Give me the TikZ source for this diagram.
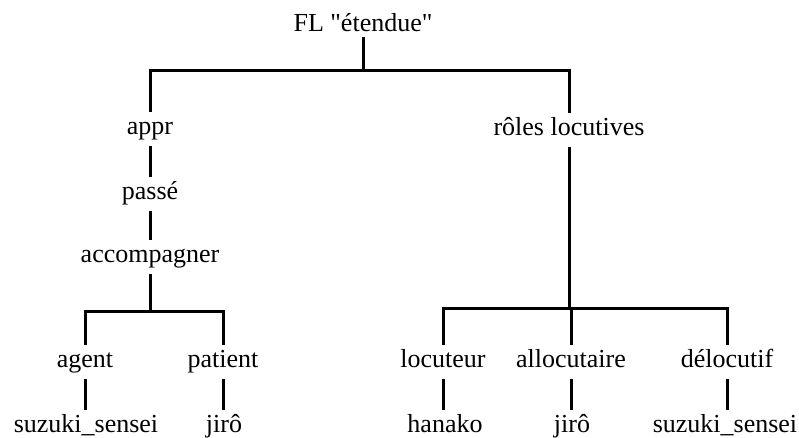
\documentclass[tikz,border=0pt]{standalone}
\usepackage{fontspec}
\setmainfont{Liberation Serif}
\usepackage{tikz}
\tikzset{%
    term/.style={%
        anchor=base, inner sep=3pt,
        text height=9pt, text depth=3pt,
        font=\fontsize{13}{15}\selectfont
    },
    branch/.style={line width=1.5pt, line cap=rect}
}

\begin{document}
\begin{tikzpicture}[x=0.5pt,y=-0.5pt]
	\useasboundingbox (0,0) rectangle (799,438);
	\node[term,text depth=0pt](root) at (363,32) {FL \textquotedbl étendue\textquotedbl};
	\node[term](appr) at (150,135) {appr};
	\node[term](roles) at (569,136) {rôles locutives};
	\node[term](passe) at (150,200) {passé};
	\node[term](accomp) at (150,263) {accompagner};
	\node[term](agent) at (85,368) {agent};
	\node[term](patient) at (223,368) {patient};
	\node[term](suzukiA) at (86,433) {suzuki\_sensei};
	\node[term](jiroA) at (224,433) {jirô};
	\node[term](locuteur) at (443,368) {locuteur};
	\node[term](allocutaire) at (571,368) {allocutaire};
	\node[term](delocutif) at (727,368) {délocutif};
	\node[term](hanako) at (445,433) {hanako};
	\node[term](jiroB) at (572,433) {jirô};
	\node[term](suzukiB) at (725,433) {suzuki\_sensei};
	\coordinate (topbar) at (363,71);
	\coordinate (accbar) at (150,312);
	\coordinate (rolbar) at (569,309);
	\draw[branch] (root.south) -- (topbar);
	\draw[branch] (appr.north) |- (topbar) -| (roles.north);
	\draw[branch] (appr.south) -- (passe.north);
	\draw[branch] (passe.south) -- (accomp.north);
	\draw[branch] (accomp.south) -- (accbar);
	\draw[branch] (agent.north) |- (accbar) -| (patient.north);
	\draw[branch] (agent.south) -- (suzukiA.north -| agent.south);
	\draw[branch] (patient.south) -- (jiroA.north -| patient.south);
	\draw[branch] (roles.south) -- (rolbar);
	\draw[branch] (locuteur.north) |- (rolbar) -| (delocutif.north);
	\draw[branch] (allocutaire.north) -- (allocutaire.north |- rolbar);
	\draw[branch] (locuteur.south) -- (hanako.north -| locuteur.south);
	\draw[branch] (allocutaire.south) -- (jiroB.north -| allocutaire.south);
	\draw[branch] (delocutif.south) -- (suzukiB.north -| delocutif.south);
\end{tikzpicture}
\end{document}
